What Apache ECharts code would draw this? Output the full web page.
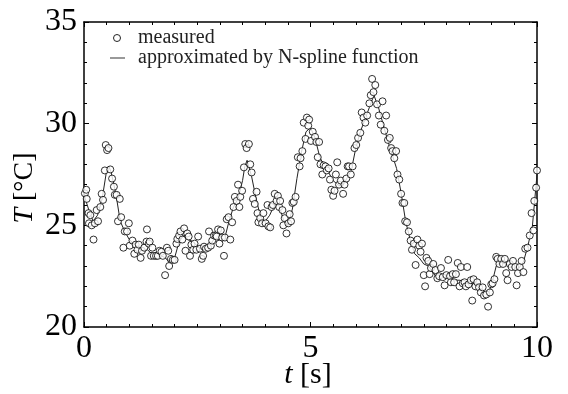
<!DOCTYPE html>
<html><head><meta charset="utf-8">
<script src="https://cdn.jsdelivr.net/npm/echarts@6/dist/echarts.min.js"></script>
<style>html,body{margin:0;padding:0;background:#fff}#c{width:568px;height:394px}</style>
</head><body><div id="c"></div>
<script>
const tMeasured = [0.02,0.05,0.06,0.10,0.11,0.14,0.17,0.21,0.24,0.28,0.31,0.36,0.39,0.42,0.46,0.48,0.51,0.54,0.58,0.62,0.66,0.68,0.72,0.79,0.75,0.82,0.87,0.90,0.95,0.99,1.01,1.07,1.11,1.14,1.18,1.21,1.25,1.28,1.33,1.38,1.39,1.43,1.45,1.48,1.51,1.54,1.59,1.63,1.67,1.71,1.74,1.79,1.83,1.86,1.88,1.92,1.96,2.00,2.04,2.06,2.10,2.13,2.17,2.21,2.24,2.28,2.31,2.34,2.37,2.41,2.44,2.48,2.52,2.56,2.60,2.63,2.65,2.69,2.74,2.76,2.80,2.83,2.87,2.91,2.93,2.96,2.99,3.02,3.05,3.09,3.11,3.15,3.19,3.23,3.27,3.30,3.33,3.37,3.40,3.43,3.45,3.49,3.53,3.56,3.59,3.64,3.67,3.70,3.73,3.77,3.81,3.83,3.85,3.89,3.93,3.96,4.01,4.05,4.07,4.11,4.14,4.17,4.21,4.25,4.28,4.31,4.33,4.38,4.40,4.43,4.47,4.51,4.54,4.57,4.60,4.63,4.67,4.72,4.76,4.78,4.82,4.85,4.89,4.92,4.95,4.97,5.01,5.05,5.10,5.13,5.16,5.19,5.22,5.26,5.29,5.33,5.36,5.40,5.43,5.46,5.50,5.53,5.56,5.59,5.63,5.67,5.72,5.75,5.79,5.82,5.85,5.89,5.93,5.97,6.01,6.05,6.10,6.13,6.17,6.21,6.25,6.30,6.33,6.36,6.39,6.43,6.47,6.51,6.55,6.59,6.63,6.67,6.71,6.75,6.78,6.81,6.85,6.89,6.92,6.96,7.00,7.03,7.07,7.09,7.13,7.17,7.21,7.24,7.28,7.32,7.36,7.40,7.43,7.46,7.50,7.53,7.56,7.60,7.63,7.66,7.71,7.76,7.80,7.84,7.88,7.92,7.96,8.00,8.04,8.08,8.10,8.14,8.17,8.21,8.25,8.29,8.32,8.36,8.40,8.43,8.46,8.49,8.54,8.57,8.60,8.64,8.68,8.72,8.76,8.80,8.83,8.88,8.92,8.96,8.99,9.02,9.06,9.10,9.13,9.17,9.21,9.25,9.29,9.32,9.35,9.40,9.44,9.47,9.52,9.55,9.58,9.62,9.66,9.70,9.74,9.79,9.84,9.88,9.92,9.94,9.98,10.00];
const TMeasured = [26.57,26.75,26.3,25.6,25.1,25.5,25.0,24.3,25.1,25.75,25.2,25.9,26.55,26.25,27.7,28.95,28.7,28.8,27.75,27.3,26.9,26.5,26.5,26.3,25.2,25.4,23.9,24.7,24.7,25.1,24.0,24.25,23.6,24.05,23.8,24.05,23.4,23.75,23.9,24.2,24.8,24.1,24.2,23.5,23.9,23.5,23.5,23.5,23.75,23.7,23.5,22.55,23.9,23.75,23.0,23.35,23.3,23.3,24.1,24.33,24.5,24.7,24.3,24.85,23.75,24.6,24.45,23.5,24.05,23.8,24.1,23.8,24.45,23.85,23.35,23.5,23.95,23.85,23.9,24.7,24.0,24.25,24.5,24.5,24.45,24.8,24.1,24.75,24.4,23.5,24.4,25.3,25.4,24.3,25.15,25.9,26.4,26.2,27.0,25.9,26.4,26.7,27.85,29.0,28.8,29.0,28.0,27.6,26.3,26.05,26.65,25.6,25.15,25.35,25.1,25.6,25.1,26.0,24.95,24.9,25.9,26.0,26.55,26.2,26.45,25.9,26.2,25.75,25.0,25.35,24.6,25.1,25.55,25.2,26.1,26.15,26.4,28.35,27.9,28.3,28.65,30.05,29.25,30.3,29.9,30.2,29.15,29.6,29.35,29.1,28.35,29.1,28.0,27.5,27.95,27.9,27.7,27.8,27.25,26.75,26.45,26.7,27.5,28.1,27.0,27.2,26.55,27.0,27.3,27.9,27.9,27.5,27.9,28.8,28.95,29.3,29.55,30.55,30.3,30.05,30.4,31.0,31.4,32.2,31.55,31.9,30.95,30.4,29.95,31.1,29.65,30.4,29.2,29.3,28.8,28.65,28.3,28.65,27.5,27.25,26.55,26.1,26.1,25.2,25.15,24.7,24.25,23.8,24.1,23.05,24.3,24.0,23.7,24.1,22.55,22.0,23.4,23.25,22.6,22.9,23.1,22.8,22.4,22.5,22.9,22.45,22.05,22.55,23.3,22.5,22.2,22.6,22.2,22.6,23.15,22.0,22.95,22.15,22.2,22.0,22.95,22.1,22.3,21.3,22.35,22.0,22.2,21.95,21.7,21.95,21.55,21.6,21.0,21.7,22.1,22.15,22.35,23.45,23.35,23.1,23.35,23.1,23.35,22.65,22.3,23.1,22.95,23.25,22.95,22.05,22.65,22.95,23.25,22.7,23.85,23.9,24.5,25.6,24.75,26.2,26.85,27.7];
const tFit = [0.0,0.1,0.2,0.3,0.4,0.5,0.55,0.6,0.7,0.8,0.9,1.0,1.1,1.2,1.3,1.4,1.5,1.6,1.7,1.8,1.9,2.0,2.1,2.2,2.3,2.4,2.5,2.6,2.7,2.8,2.9,3.0,3.1,3.2,3.3,3.4,3.5,3.55,3.6,3.7,3.8,3.9,4.0,4.1,4.2,4.3,4.4,4.5,4.6,4.7,4.8,4.9,5.0,5.1,5.2,5.3,5.4,5.5,5.6,5.7,5.8,5.9,6.0,6.1,6.2,6.3,6.4,6.5,6.6,6.7,6.8,6.9,7.0,7.1,7.2,7.3,7.4,7.5,7.6,7.7,7.8,7.9,8.0,8.1,8.2,8.3,8.4,8.5,8.6,8.7,8.8,8.9,9.0,9.1,9.2,9.3,9.4,9.5,9.6,9.7,9.8,9.9,10.0];
const TFit = [26.5,25.8,25.2,25.5,26.3,27.7,27.9,27.6,26.6,25.2,24.7,24.3,24.1,23.9,23.8,23.8,23.6,23.5,23.5,23.4,23.1,23.4,24.2,24.5,24.3,24.2,24.0,23.8,23.9,24.1,24.4,24.5,24.3,25.2,25.9,26.3,27.2,27.9,28.2,27.4,26.3,25.4,25.2,25.5,26.0,26.0,25.3,25.0,25.8,27.3,28.6,29.6,29.8,29.3,28.4,27.9,27.6,27.2,27.0,26.9,27.3,27.7,28.8,29.6,30.2,30.8,31.4,30.8,30.0,29.2,28.5,27.8,26.6,25.2,24.3,23.6,23.4,23.1,23.0,22.7,22.4,22.5,22.4,22.4,22.3,22.3,22.2,22.2,22.1,22.0,21.7,21.5,22.1,23.0,23.2,23.1,23.0,22.9,22.9,23.2,24.0,25.0,27.5];
const xTicks = [0, 5, 10];
const yTicks = [20, 25, 30, 35];
const legendNames = ['measured', 'approximated by N-spline function'];

const FONT = "'Liberation Serif','Times New Roman',serif";
const chart = echarts.init(document.getElementById('c'), null, {renderer: 'canvas'});
function xAx(pos, labels) {
  return {
    type: 'value', min: xTicks[0], max: xTicks[xTicks.length - 1], interval: xTicks[1] - xTicks[0], position: pos,
    axisLine: {show: true, onZero: false, lineStyle: {color: '#000', width: 1.5}},
    axisTick: {show: true, inside: true, length: 5, lineStyle: {color: '#000', width: 1}},
    minorTick: {show: true, splitNumber: 10, length: 3, lineStyle: {color: '#000', width: 1}},
    splitLine: {show: false}, minorSplitLine: {show: false},
    axisLabel: {show: labels, fontSize: 32, color: '#000', fontFamily: FONT, margin: 6}
  };
}
function yAx(pos, labels) {
  return {
    type: 'value', min: yTicks[0], max: yTicks[yTicks.length - 1], interval: yTicks[1] - yTicks[0], position: pos,
    axisLine: {show: true, onZero: false, lineStyle: {color: '#000', width: 1.5}},
    axisTick: {show: true, inside: true, length: 5, lineStyle: {color: '#000', width: 1}},
    minorTick: {show: true, splitNumber: 5, length: 3, lineStyle: {color: '#000', width: 1}},
    splitLine: {show: false}, minorSplitLine: {show: false},
    axisLabel: {show: labels, fontSize: 32, color: '#000', fontFamily: FONT, margin: 7}
  };
}
chart.setOption({
  animation: false,
  backgroundColor: '#fff',
  grid: {left: 84, right: 31, top: 22, bottom: 67, containLabel: false},
  xAxis: [xAx('bottom', true), xAx('top', false)],
  yAxis: [yAx('left', true), yAx('right', false)],
  series: [
    {name: legendNames[1], type: 'line', data: tFit.map((t, i) => [t, TFit[i]]), showSymbol: false, symbol: 'none',
     lineStyle: {color: '#222', width: 1}, z: 2},
    {name: legendNames[0], type: 'scatter', data: tMeasured.map((t, i) => [t, TMeasured[i]]), symbol: 'circle', symbolSize: 7,
     itemStyle: {color: '#fff', borderColor: '#000', borderWidth: 1}, z: 3}
  ],
  graphic: [
    {type: 'circle', shape: {cx: 117, cy: 38, r: 3.5}, style: {fill: '#fff', stroke: '#222', lineWidth: 1}},
    {type: 'text', x: 138, y: 38, style: {text: legendNames[0], font: '20px ' + FONT, fill: '#222', verticalAlign: 'middle'}},
    {type: 'line', shape: {x1: 110, y1: 58, x2: 125, y2: 58}, style: {stroke: '#777', lineWidth: 1.5}},
    {type: 'text', x: 138, y: 58, style: {text: legendNames[1], font: '20px ' + FONT, fill: '#222', verticalAlign: 'middle'}},
    {type: 'text', x: 308, y: 375, style: {text: '{i|t} [s]', font: '30px ' + FONT, fill: '#000', align: 'center', verticalAlign: 'middle',
      rich: {i: {fontStyle: 'italic', fontSize: 30, fontFamily: FONT}}}},
    {type: 'text', x: 25, y: 188, rotation: Math.PI / 2, style: {text: '{i|T} [°C]', font: '28px ' + FONT, fill: '#000', align: 'center', verticalAlign: 'middle',
      rich: {i: {fontStyle: 'italic', fontSize: 28, fontFamily: FONT}}}}
  ]
});
</script></body></html>
